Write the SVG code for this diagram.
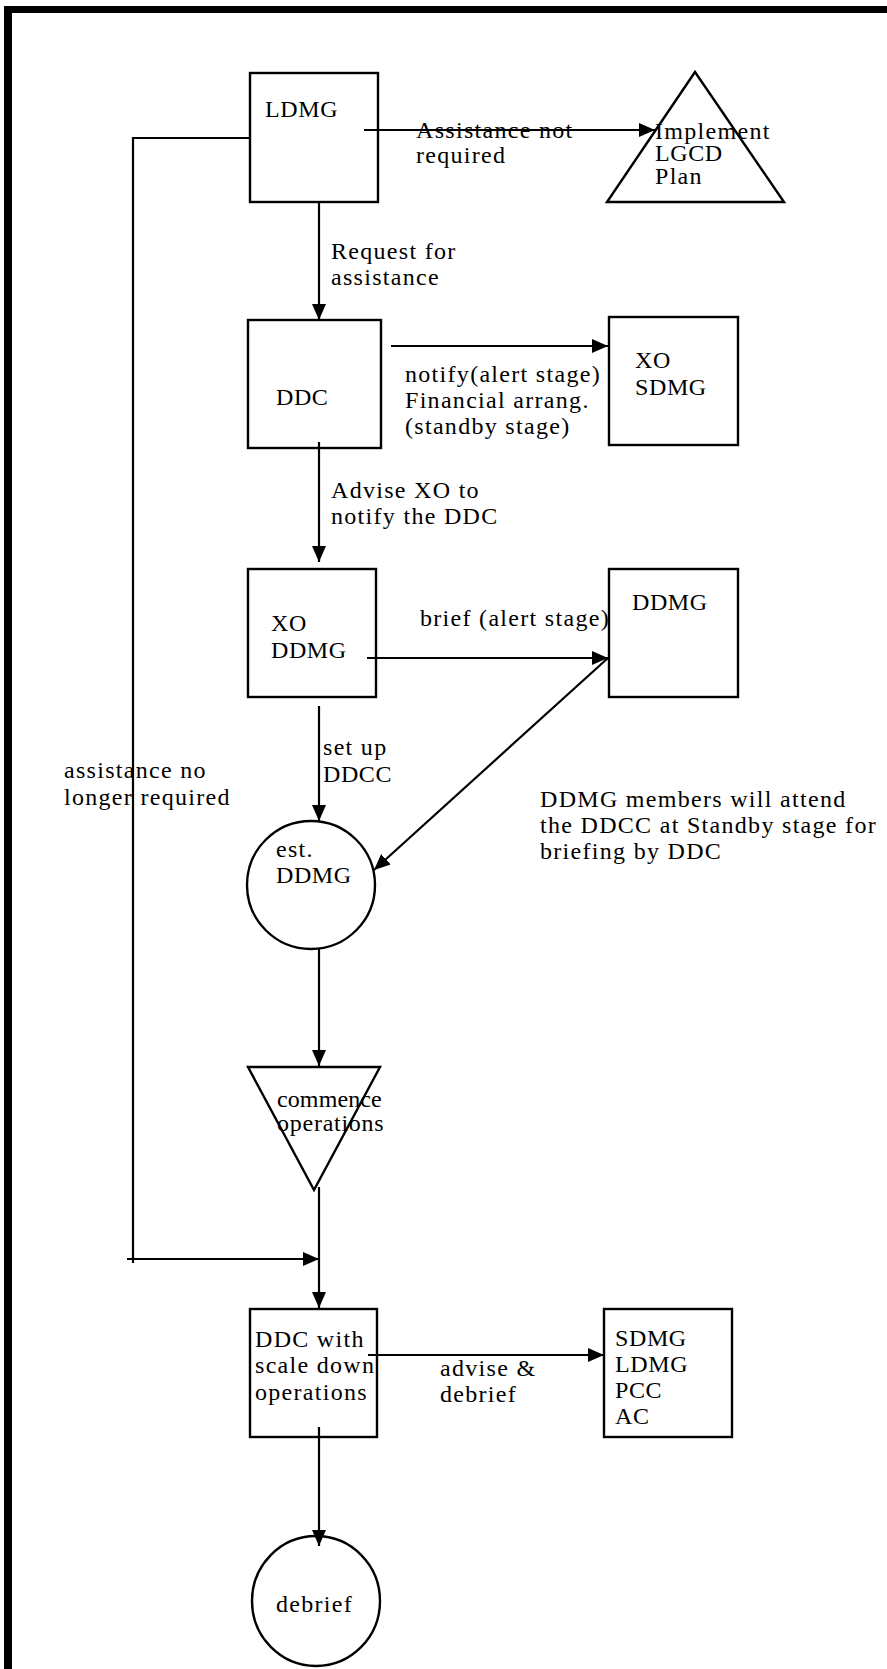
<svg xmlns="http://www.w3.org/2000/svg" width="887" height="1669" viewBox="0 0 887 1669">
<style>
text{font-family:"Liberation Serif","Times New Roman",serif;font-size:24px;fill:#000;letter-spacing:1.3px}
text.c{letter-spacing:0.6px}
.n{fill:none;stroke:#000;stroke-width:2.4}
.l{fill:none;stroke:#000;stroke-width:2.2}
</style>
<defs>
<marker id="ah" markerUnits="userSpaceOnUse" markerWidth="16" markerHeight="14" refX="16" refY="7" orient="auto">
<path d="M0,0 L16,7 L0,14 Z" fill="#000"/>
</marker>
</defs>
<rect width="887" height="1669" fill="#fff"/>
<g id="frame">
<rect x="4" y="6" width="883" height="7" fill="#000"/>
<rect x="4" y="6" width="8" height="1663" fill="#000"/>
</g>
<g id="connectors">
<line class="l" x1="364" y1="130" x2="655" y2="130" marker-end="url(#ah)"/>
<polyline class="l" points="250,138 133,138 133,1263"/>
<line class="l" x1="127" y1="1259" x2="319" y2="1259" marker-end="url(#ah)"/>
<line class="l" x1="319" y1="202" x2="319" y2="320" marker-end="url(#ah)"/>
<line class="l" x1="391" y1="346" x2="608" y2="346" marker-end="url(#ah)"/>
<line class="l" x1="319" y1="442" x2="319" y2="562" marker-end="url(#ah)"/>
<line class="l" x1="367" y1="658" x2="608" y2="658" marker-end="url(#ah)"/>
<line class="l" x1="608" y1="658" x2="374" y2="870" marker-end="url(#ah)"/>
<line class="l" x1="319" y1="706" x2="319" y2="821" marker-end="url(#ah)"/>
<line class="l" x1="319" y1="949" x2="319" y2="1066" marker-end="url(#ah)"/>
<line class="l" x1="319" y1="1187" x2="319" y2="1308" marker-end="url(#ah)"/>
<line class="l" x1="368" y1="1355" x2="604" y2="1355" marker-end="url(#ah)"/>
<line class="l" x1="319" y1="1427" x2="319" y2="1546" marker-end="url(#ah)"/>
</g>
<g id="LDMG">
<rect class="n" x="250" y="73" width="128" height="129"/>
<text class="c" x="265" y="117">LDMG</text>
</g>
<g id="implement">
<polygon class="n" points="695,72 784,202 607,202"/>
<text x="655" y="139">Implement</text>
<text class="c" x="655" y="161">LGCD</text>
<text x="655" y="184">Plan</text>
</g>
<g id="DDC">
<rect class="n" x="248" y="320" width="133" height="128"/>
<text class="c" x="276" y="405">DDC</text>
</g>
<g id="XO-SDMG">
<rect class="n" x="609" y="317" width="129" height="128"/>
<text class="c" x="635" y="368">XO</text>
<text class="c" x="635" y="395">SDMG</text>
</g>
<g id="XO-DDMG">
<rect class="n" x="248" y="569" width="128" height="128"/>
<text class="c" x="271" y="631">XO</text>
<text class="c" x="271" y="658">DDMG</text>
</g>
<g id="DDMG">
<rect class="n" x="609" y="569" width="129" height="128"/>
<text class="c" x="632" y="610">DDMG</text>
</g>
<g id="est-DDMG">
<circle class="n" cx="311" cy="885" r="64"/>
<text x="276" y="857">est.</text>
<text class="c" x="276" y="883">DDMG</text>
</g>
<g id="commence">
<polygon class="n" points="248,1067 380,1067 314,1190"/>
<text x="277" y="1107" textLength="106" lengthAdjust="spacing">commence</text>
<text x="277" y="1131" textLength="108" lengthAdjust="spacing">operations</text>
</g>
<g id="DDC-scale-down">
<rect class="n" x="250" y="1309" width="127" height="128"/>
<text x="255" y="1347">DDC with</text>
<text x="255" y="1373">scale down</text>
<text x="255" y="1400">operations</text>
</g>
<g id="SDMG-LDMG-PCC-AC">
<rect class="n" x="604" y="1309" width="128" height="128"/>
<text class="c" x="615" y="1346">SDMG</text>
<text class="c" x="615" y="1372">LDMG</text>
<text class="c" x="615" y="1398">PCC</text>
<text class="c" x="615" y="1424">AC</text>
</g>
<g id="debrief">
<ellipse class="n" cx="316" cy="1601" rx="64" ry="65"/>
<text x="276" y="1612">debrief</text>
</g>
<g id="labels">
<text x="416" y="138">Assistance not</text>
<text x="416" y="163">required</text>
<text x="331" y="259">Request for</text>
<text x="331" y="285">assistance</text>
<text x="405" y="382">notify(alert stage)</text>
<text x="405" y="408">Financial arrang.</text>
<text x="405" y="434">(standby stage)</text>
<text x="331" y="498">Advise XO to</text>
<text x="331" y="524">notify the DDC</text>
<text x="420" y="626">brief (alert stage)</text>
<text x="323" y="755">set up</text>
<text class="c" x="323" y="782">DDCC</text>
<text x="64" y="778">assistance no</text>
<text x="64" y="805">longer required</text>
<text x="540" y="807">DDMG members will attend</text>
<text x="540" y="833">the DDCC at Standby stage for</text>
<text x="540" y="859">briefing by DDC</text>
<text x="440" y="1376">advise &amp;</text>
<text x="440" y="1402">debrief</text>
</g>
</svg>
